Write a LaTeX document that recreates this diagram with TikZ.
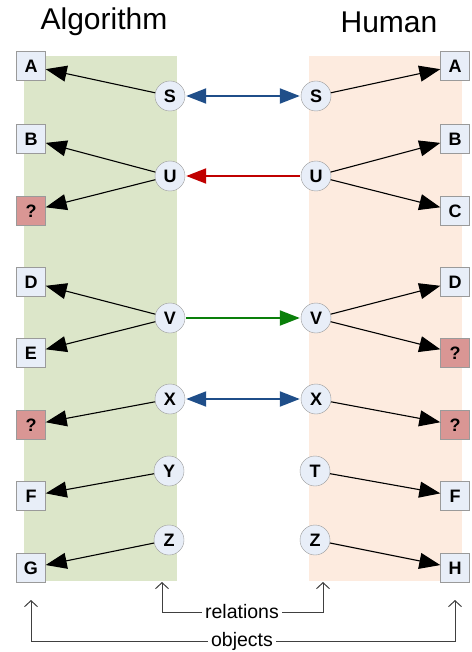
\documentclass[tikz,border=0pt]{standalone}
\usepackage{fontspec}
\setmainfont{Liberation Sans}
\usetikzlibrary{arrows.meta}
\definecolor{algbg}{HTML}{DCE6C9}
\definecolor{humbg}{HTML}{FDEBDF}
\definecolor{objfill}{HTML}{E8EEF8}
\definecolor{unkfill}{HTML}{D99694}
\definecolor{rimgray}{HTML}{9A9A9A}
\definecolor{relblue}{HTML}{1F4E89}
\definecolor{relred}{HTML}{C00000}
\definecolor{relgreen}{HTML}{0A7F0A}
\definecolor{notegray}{HTML}{404040}
\tikzset{
  objbox/.style={draw=rimgray, fill=objfill, minimum width=29pt, minimum height=29pt,
    inner sep=0pt, font=\fontsize{18}{20}\selectfont\bfseries},
  unkbox/.style={objbox, fill=unkfill},
  relnode/.style={circle, draw=rimgray, fill=objfill, minimum size=30pt, inner sep=0pt,
    font=\fontsize{18}{20}\selectfont\bfseries},
  maps/.style={draw=black, line width=1.1pt, -{Triangle[length=21pt,width=16pt]}},
  link/.style={line width=2pt, shorten >=1pt, shorten <=1pt},
  note/.style={draw=notegray, line width=1pt, -{Straight Barb[length=6pt,width=13pt]}},
  caption/.style={font=\fontsize{19.5}{22}\selectfont, fill=white, inner sep=3pt},
  title/.style={font=\fontsize{30}{34}\selectfont}
}
\begin{document}
\begin{tikzpicture}[x=1pt,y=-1pt]
\useasboundingbox (0,0) rectangle (471,652);
% side panels
\fill[algbg] (24,56) rectangle (177,581);
\fill[humbg] (309,56) rectangle (462,581);
% titles
\node[title] (talg) at (104,22) {Algorithm};
\node[title] (thum) at (389,22) {Human};
% algorithm side: relations
\node[relnode] (aS) at (170,96) {S};
\node[relnode] (aU) at (170,176) {U};
\node[relnode] (aV) at (170,318) {V};
\node[relnode] (aX) at (170,399) {X};
\node[relnode] (aY) at (169,471) {Y};
\node[relnode] (aZ) at (169,540) {Z};
% algorithm side: objects
\node[objbox] (aA) at (31,66) {A};
\node[objbox] (aB) at (31,139) {B};
\node[unkbox] (aQ1) at (31,211) {?};
\node[objbox] (aD) at (31,282) {D};
\node[objbox] (aE) at (31,353) {E};
\node[unkbox] (aQ2) at (31,425) {?};
\node[objbox] (aF) at (31,496) {F};
\node[objbox] (aG) at (31,568) {G};
% human side: relations
\node[relnode] (hS) at (316,96) {S};
\node[relnode] (hU) at (316,176) {U};
\node[relnode] (hV) at (316,318) {V};
\node[relnode] (hX) at (316,399) {X};
\node[relnode] (hT) at (315,471) {T};
\node[relnode] (hZ) at (315,540) {Z};
% human side: objects
\node[objbox] (hA) at (455,66) {A};
\node[objbox] (hB) at (455,139) {B};
\node[objbox] (hC) at (455,211) {C};
\node[objbox] (hD) at (455,282) {D};
\node[unkbox] (hQ1) at (455,353) {?};
\node[unkbox] (hQ2) at (455,425) {?};
\node[objbox] (hF) at (455,496) {F};
\node[objbox] (hH) at (455,568) {H};
% relation -> object arrows
\draw[maps] (aS) -- (aA);
\draw[maps] (aU) -- (aB);
\draw[maps] (aU) -- (aQ1);
\draw[maps] (aV) -- (aD);
\draw[maps] (aV) -- (aE);
\draw[maps] (aX) -- (aQ2);
\draw[maps] (aY) -- (aF);
\draw[maps] (aZ) -- (aG);
\draw[maps] (hS) -- (hA);
\draw[maps] (hU) -- (hB);
\draw[maps] (hU) -- (hC);
\draw[maps] (hV) -- (hD);
\draw[maps] (hV) -- (hQ1);
\draw[maps] (hX) -- (hQ2);
\draw[maps] (hT) -- (hF);
\draw[maps] (hZ) -- (hH);
% links between the two sides
\draw[link, relblue, {Triangle[length=20pt,width=15pt]}-{Triangle[length=20pt,width=15pt]}] (aS) -- (hS);
\draw[link, relred, -{Triangle[length=20pt,width=15pt]}] (hU) -- (aU);
\draw[link, relgreen, -{Triangle[length=20pt,width=15pt]}] (aV) -- (hV);
\draw[link, relblue, {Triangle[length=20pt,width=15pt]}-{Triangle[length=20pt,width=15pt]}] (aX) -- (hX);
% legend
\coordinate (relL) at (162,582);
\coordinate (relR) at (323,582);
\coordinate (objL) at (31,600);
\coordinate (objR) at (455,600);
\node[caption] (rel) at (242,612) {relations};
\node[caption] (obj) at (242,641) {objects};
\draw[note] (rel.west) -| (relL);
\draw[note] (rel.east) -| (relR);
\draw[note] (obj.west) -| (objL);
\draw[note] (obj.east) -| (objR);
\end{tikzpicture}
\end{document}
